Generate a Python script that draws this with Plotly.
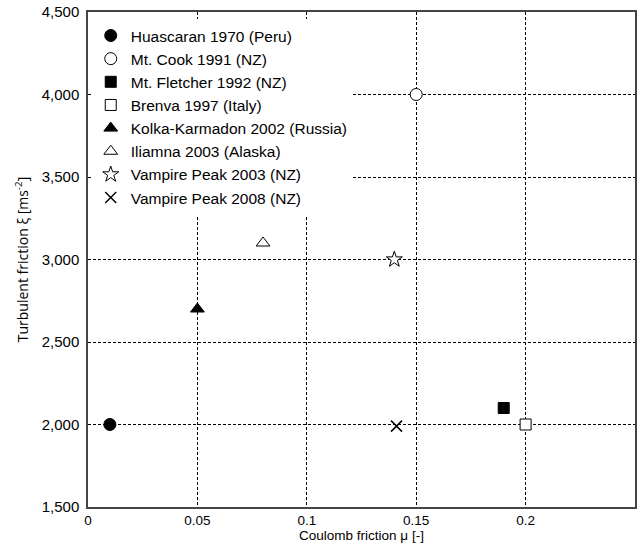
import plotly.graph_objects as go

names = ["Huascaran 1970 (Peru)", "Mt. Cook 1991 (NZ)", "Mt. Fletcher 1992 (NZ)",
         "Brenva 1997 (Italy)", "Kolka-Karmadon 2002 (Russia)", "Iliamna 2003 (Alaska)",
         "Vampire Peak 2003 (NZ)", "Vampire Peak 2008 (NZ)"]
mu = [0.01, 0.15, 0.19, 0.20, 0.05, 0.08, 0.14, 0.141]
xi = [2000, 4000, 2100, 2000, 2700, 3100, 3000, 1990]
symbols = ["circle", "circle-open", "square", "square-open", "triangle-up",
           "triangle-up-open", "star-open", "x-thin-open"]
sizes = [12, 12, 11, 11, 12, 12, 12, 11]

fig = go.Figure()
for i, n in enumerate(names):
    fill = "black" if not symbols[i].endswith("open") else "white"
    sym = symbols[i].replace("-open", "") if symbols[i] != "x-thin-open" else "x-thin"
    fig.add_trace(go.Scatter(
        x=[mu[i]], y=[xi[i]], mode="markers", name=n,
        marker=dict(symbol=sym, size=sizes[i], color=fill,
                    line=dict(color="black", width=1.5 if sym == "x-thin" else 1)),
    ))

fig.update_layout(
    width=639, height=543,
    margin=dict(l=88, r=2, t=12, b=36),
    plot_bgcolor="white", paper_bgcolor="white",
    font=dict(family="Liberation Sans, Arial, sans-serif", size=15, color="black"),
    showlegend=True,
    legend=dict(x=0.005, y=0.986, xanchor="left", yanchor="top", bgcolor="white",
                font=dict(size=15.5), traceorder="normal"),
)
fig.update_xaxes(range=[0, 0.25], tickvals=[0, 0.05, 0.1, 0.15, 0.2],
                 ticktext=["0", "0.05", "0.1", "0.15", "0.2"],
                 showgrid=True, gridcolor="black", griddash="3px,2px", gridwidth=1,
                 showline=True, linecolor="#444", linewidth=1.5, mirror=True,
                 zeroline=False, ticks="", tickfont=dict(size=13.5), ticklabelstandoff=0,
                 title=dict(text="Coulomb friction μ [-]", standoff=0,
                            font=dict(size=13.5)))
fig.update_yaxes(range=[1500, 4500], dtick=500, tickformat=",d",
                 showgrid=True, gridcolor="black", griddash="3px,2px", gridwidth=1,
                 showline=True, linecolor="#444", linewidth=1.5, mirror=True,
                 zeroline=False, ticks="", tickfont=dict(size=15), ticklabelstandoff=4,
                 title=dict(text="Turbulent friction ξ [ms<sup>-2</sup>]", standoff=10,
                            font=dict(family="Open Sans, sans-serif", size=14)))

fig.write_html("out.html")
